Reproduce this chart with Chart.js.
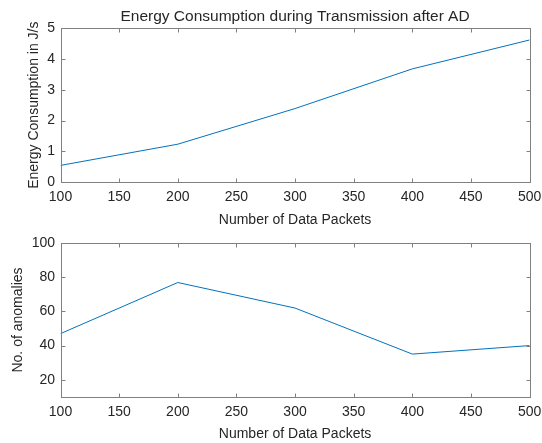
<!DOCTYPE html>
<html>
<head>
<meta charset="utf-8">
<script src="https://cdn.jsdelivr.net/npm/chart.js@4/dist/chart.umd.min.js"></script>
<style>
  body { margin: 0; background: #fff; width: 542px; height: 443px; position: relative; overflow: hidden; }
  .plot { position: absolute; left: 0; width: 542px; }
  #top { top: 0; height: 229px; }
  #bottom { top: 225px; height: 218px; }
</style>
</head>
<body>
<div class="plot" id="top"><canvas id="energyChart"></canvas></div>
<div class="plot" id="bottom"><canvas id="anomalyChart"></canvas></div>
<script>
// data
const packets = [100, 200, 300, 400, 500];
const energy = [0.54, 1.23, 2.39, 3.68, 4.62];
const anomalies = [47, 77, 62, 35, 40];

const xTicks = [100, 150, 200, 250, 300, 350, 400, 450, 500];
const energyTicks = [0, 1, 2, 3, 4, 5];
const anomalyTicks = [20, 40, 60, 80, 100];

const FONT = "'Liberation Sans', Arial, sans-serif";
const TEXT = "#262626";
const LINE = "#0072BD";

// MATLAB-like box with inward tick marks
const boxPlugin = {
  id: "matlabBox",
  afterDraw(chart) {
    const { ctx, chartArea: a, scales } = chart;
    ctx.save();
    ctx.strokeStyle = "#808080";
    ctx.lineWidth = 1;
    const l = Math.round(a.left) + 0.5, r = Math.round(a.right) + 0.5;
    const t = Math.round(a.top) + 0.5, b = Math.round(a.bottom) + 0.5;
    ctx.strokeRect(l, t, r - l, b - t);
    const len = 4;
    ctx.beginPath();
    scales.x.ticks.forEach((tk) => {
      const px = Math.round(scales.x.getPixelForValue(tk.value)) + 0.5;
      ctx.moveTo(px, b); ctx.lineTo(px, b - len);
      ctx.moveTo(px, t); ctx.lineTo(px, t + len);
    });
    scales.y.ticks.forEach((tk) => {
      const py = Math.round(scales.y.getPixelForValue(tk.value)) + 0.5;
      ctx.moveTo(l, py); ctx.lineTo(l + len, py);
      ctx.moveTo(r, py); ctx.lineTo(r - len, py);
    });
    ctx.stroke();
    ctx.restore();
  },
};

function makeChart(canvasId, values, yMin, yMax, yTicks, yTitle, title, layout) {
  const ctx = document.getElementById(canvasId).getContext("2d");
  return new Chart(ctx, {
    type: "line",
    data: {
      datasets: [{
        data: packets.map((p, i) => ({ x: p, y: values[i] })),
        borderColor: LINE,
        borderWidth: 1,
        pointRadius: 0,
        tension: 0,
        fill: false,
      }],
    },
    options: {
      responsive: true,
      maintainAspectRatio: false,
      animation: false,
      events: [],
      layout: { padding: layout.padding },
      plugins: {
        legend: { display: false },
        tooltip: { enabled: false },
        title: {
          display: !!title,
          text: title,
          color: TEXT,
          fullSize: false,
          font: { family: FONT, size: 15.5, weight: "normal" },
          padding: { top: 7.4, bottom: 2.3 },
        },
      },
      scales: {
        x: {
          type: "linear",
          min: 100,
          max: 500,
          grid: { display: false, drawTicks: false },
          border: { display: false },
          afterBuildTicks: (s) => { s.ticks = xTicks.map((v) => ({ value: v })); },
          afterFit: (s) => {
            s.height = layout.xHeight;
            // end labels may overhang the plot box, like in MATLAB
            s.paddingLeft = 0;
            s.paddingRight = 0;
          },
          ticks: { color: TEXT, font: { family: FONT, size: 14 }, padding: layout.xPad, maxRotation: 0, autoSkip: false },
          title: {
            display: true,
            text: "Number of Data Packets",
            color: TEXT,
            font: { family: FONT, size: 14 },
            padding: { top: 2, bottom: 0 },
          },
        },
        y: {
          type: "linear",
          min: yMin,
          max: yMax,
          grid: { display: false, drawTicks: false },
          border: { display: false },
          afterBuildTicks: (s) => { s.ticks = yTicks.map((v) => ({ value: v })); },
          afterFit: (s) => { s.width = layout.yWidth; },
          ticks: { color: TEXT, font: { family: FONT, size: 14 }, padding: 5.5 },
          title: {
            display: true,
            text: yTitle,
            color: TEXT,
            font: { family: FONT, size: 14 },
            padding: { top: layout.yTitleGap, bottom: 0 },
          },
        },
      },
    },
    plugins: [boxPlugin],
  });
}

document.addEventListener("DOMContentLoaded", function () {
  makeChart("energyChart", energy, 0, 5, energyTicks,
    "Energy Consumption in J/s",
    "Energy Consumption during Transmission after AD",
    { padding: { left: 0, right: 12.4, top: 0, bottom: 0 }, xHeight: 47, yWidth: 60.5, xPad: 6.5, yTitleGap: 25.6 });

  makeChart("anomalyChart", anomalies, 10, 100, anomalyTicks,
    "No. of anomalies",
    "",
    { padding: { left: 0, right: 12.4, top: 18.3, bottom: 0 }, xHeight: 46.3, yWidth: 60.5, xPad: 7, yTitleGap: 10.1 });
});
</script>
</body>
</html>
